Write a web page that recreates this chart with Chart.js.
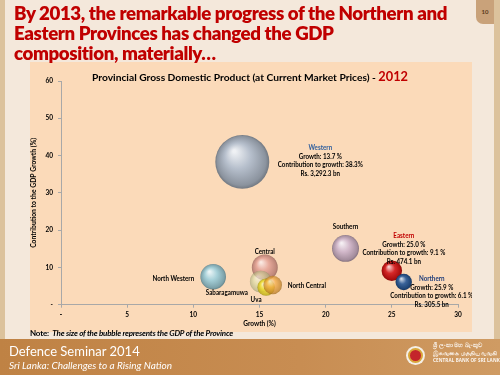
<!DOCTYPE html>
<html>
<head>
<meta charset="utf-8">
<script src="https://cdn.jsdelivr.net/npm/chart.js@4/dist/chart.umd.min.js"></script>
<style>
  html, body { margin: 0; padding: 0; }
  body { width: 500px; height: 375px; background: #dcc29c; position: relative; overflow: hidden; font-family: Lato, "Open Sans", sans-serif; }
  #slide { position: absolute; left: 5px; top: 0; width: 489px; height: 339px; background: #f4e8db; }
  #tab { position: absolute; left: 476px; top: 0; width: 18px; height: 24px; background: #c9a27a; border-bottom-left-radius: 7px; font: bold 6px Lato, sans-serif; color: #5a3a1a; text-align: center; line-height: 24px; }
  #heading { position: absolute; left: 14px; top: 3px; margin: 0; color: #c00000; font: 800 18.7px/20px Lato, sans-serif; letter-spacing: -0.4px; z-index: 2; white-space: nowrap; }
  #panel { position: absolute; left: 30px; top: 62px; width: 442px; height: 270px; background: #fbdab9; }
  #note { position: absolute; left: 30px; top: 328px; font: bold 8px Lato, sans-serif; color: #000; letter-spacing: -0.2px; }
  #note i { font-weight: bold; }
  #footer { position: absolute; left: 0; top: 339px; width: 500px; height: 36px; background: linear-gradient(to right, #bf8244, #c88d52 60%, #cf9b63); }
  #f1 { position: absolute; left: 9px; top: 4px; color: #fff; font: 13px Lato, "Open Sans", sans-serif; white-space: nowrap; }
  #f2 { position: absolute; left: 9px; top: 20px; color: #fff; font: italic 10px Lato, "Open Sans", sans-serif; white-space: nowrap; }
  #logo { position: absolute; left: 406px; top: 7px; width: 19px; height: 19px; border-radius: 50%; background: #f4efe6; }
  #logo div { position: absolute; left: 2px; top: 2px; width: 11px; height: 11px; border-radius: 50%; background: #c4252b; border: 2px solid #d9a53a; }
  #bank { position: absolute; left: 433px; top: 3px; color: #fff; font: bold 6px "Noto Sans", sans-serif; line-height: 7.5px; opacity: 0.9; white-space: nowrap; }
  #bank span { font-size: 4.6px; letter-spacing: 0.1px; }
</style>
</head>
<body>
<div id="slide"></div>
<div id="tab">10</div>
<div id="panel"><canvas id="bubbleChart" width="442" height="270"></canvas></div>
<h1 id="heading">By 2013, the remarkable progress of the Northern and<br>Eastern Provinces has changed the GDP<br>composition, materially…</h1>
<div id="note">Note:&nbsp; <i>The size of the bubble represents the GDP of the Province</i></div>
<div id="footer">
  <div id="f1">Defence Seminar 2014</div>
  <div id="f2">Sri Lanka: Challenges to a Rising Nation</div>
  <div id="logo"><div></div></div>
  <div id="bank">ශ්‍රී ලංකා මහ බැංකුව<br>இலங்கை மத்திய வங்கி<br><span>CENTRAL BANK OF SRI LANKA</span></div>
</div>

<script>
// provinces, 2012
const provinces = ['Western', 'Southern', 'North Western', 'Central', 'Sabaragamuwa', 'Uva', 'North Central', 'Eastern', 'Northern']
const growth = [13.7, 21.5, 11.5, 15.4, 15.1, 15.5, 16.0, 25.0, 25.9]        // %
const contribution = [38.3, 15.1, 7.5, 10.0, 6.2, 4.7, 5.3, 9.1, 6.1]       // % of GDP growth
const gdp = [3292.3, 820, 740, 760, 540, 340, 390, 474.1, 305.5]            // Rs. bn
const xTickValues = [0, 5, 10, 15, 20, 25, 30]
const yTickValues = [0, 10, 20, 30, 40, 50, 60]

const colours = ['#aeb8c6', '#cdb0c4', '#9ccbd4', '#e0968a', '#d6dc9c', '#f2dc1c', '#f0a030', '#d01010', '#24528e']
const alphas = [1, 1, 1, 0.85, 0.6, 0.85, 0.75, 1, 1]

// label layout around each bubble
const labelText = {
  'Western': [['Western', '#2f5f9e'], ['Growth: 13.7 %'], ['Contribution to growth: 38.3%'], ['Rs. 3,292.3 bn']],
  'Eastern': [['Eastern', '#c00000'], ['Growth: 25.0 %'], ['Contribution to growth: 9.1 %'], ['Rs. 474.1 bn']],
  'Northern': [['Northern', '#1f3d7a'], ['Growth: 25.9 %'], ['Contribution to growth: 6.1 %'], ['Rs. 305.5 bn']]
}
const labelPlace = {
  'Western': {dx: 78, dy: -14, align: 'center'},
  'Southern': {dx: 0, dy: -22, align: 'center'},
  'North Western': {dx: -19, dy: 2, align: 'right'},
  'Central': {dx: 0, dy: -16, align: 'center'},
  'Sabaragamuwa': {dx: -34, dy: 11, align: 'center'},
  'Uva': {dx: -10, dy: 13, align: 'center'},
  'North Central': {dx: 15, dy: 1, align: 'left'},
  'Eastern': {dx: 12, dy: -35, align: 'center'},
  'Northern': {dx: 28, dy: -3, align: 'center'}
}

const smallFont = 'bold 7px Lato, sans-serif'
const tickFont = { family: 'Lato, sans-serif', size: 6.5, weight: 'bold' }

function hexRgb(h) {
  return [parseInt(h.slice(1, 3), 16), parseInt(h.slice(3, 5), 16), parseInt(h.slice(5, 7), 16)]
}
function shade(c, f, a) {
  let v = c.map(x => f > 0 ? Math.round(x + (255 - x) * f) : Math.round(x * (1 + f)))
  return 'rgba(' + v.join(',') + ',' + a + ')'
}

function sphereFill(context) {
  let i = context.dataIndex
  let chart = context.chart
  let p = context.raw
  let base = hexRgb(colours[i])
  let a = alphas[i]
  if (!p || !chart.chartArea || !chart.scales.x) return shade(base, 0, a)
  let cx = chart.scales.x.getPixelForValue(p.x)
  let cy = chart.scales.y.getPixelForValue(p.y)
  let r = p.r
  let g = chart.ctx.createRadialGradient(cx - r * 0.3, cy - r * 0.4, r * 0.05, cx, cy, r)
  g.addColorStop(0, shade(base, 0.8, a))
  g.addColorStop(0.45, shade(base, 0.1, a))
  g.addColorStop(0.9, shade(base, -0.2, a))
  g.addColorStop(1, shade(base, -0.35, a))
  return g
}

// squeeze text horizontally (the original uses a narrow font)
function squeezed(ctx, text, x, y, align, sx) {
  ctx.save()
  ctx.translate(x, y)
  ctx.scale(sx, 1)
  ctx.textAlign = align
  ctx.fillText(text, 0, 0)
  ctx.restore()
}

const bubbleData = provinces.map((p, i) => ({
  x: growth[i],
  y: contribution[i],
  r: 0.47 * Math.sqrt(gdp[i])
}))

const labelsPlugin = {
  id: 'bubbleLabels',
  afterDatasetsDraw(chart) {
    const ctx = chart.ctx
    const meta = chart.getDatasetMeta(0)
    ctx.save()
    ctx.font = smallFont
    ctx.textBaseline = 'middle'
    let sx = 85 / ctx.measureText('Contribution to growth: 38.3%').width
    meta.data.forEach((el, i) => {
      let name = provinces[i]
      let pl = labelPlace[name]
      let lines = labelText[name] || [[name]]
      lines.forEach((ln, k) => {
        ctx.fillStyle = ln[1] || '#000'
        squeezed(ctx, ln[0], el.x + pl.dx, el.y + pl.dy + k * 8.5, pl.align, sx)
      })
    })
    // chart title
    let t1 = 'Provincial Gross Domestic Product (at Current Market Prices) - '
    let t2 = '2012'
    let f1 = 'bold 10px Lato, sans-serif'
    let f2 = 'bold 12.5px Lato, sans-serif'
    ctx.font = f1
    let w1 = ctx.measureText(t1).width
    ctx.font = f2
    let w2 = ctx.measureText(t2).width
    let ts = 316 / (w1 + w2)
    let x0 = 220 - 158
    ctx.textBaseline = 'alphabetic'
    ctx.font = f1
    ctx.fillStyle = '#000'
    squeezed(ctx, t1, x0, 19, 'left', ts)
    ctx.font = f2
    ctx.fillStyle = '#c00000'
    squeezed(ctx, t2, x0 + w1 * ts, 19, 'left', ts)
    ctx.restore()
  }
}

const chart = document.getElementById('bubbleChart')

let bubbleChart = new Chart(chart, {
  type: 'bubble',
  data: {
    datasets: [{
      label: 'Provinces',
      data: bubbleData,
      backgroundColor: sphereFill,
      borderWidth: 0
    }]
  },
  options: {
    responsive: false,
    animation: false,
    layout: { autoPadding: false, padding: { top: 19, right: 14, left: 0, bottom: 0 } },
    plugins: { legend: { display: false }, tooltip: { enabled: false } },
    scales: {
      x: {
        type: 'linear',
        min: 0, max: 30,
        afterBuildTicks: s => { s.ticks = xTickValues.map(v => ({value: v})) },
        afterFit: s => { s.height = 27.3 },
        border: { color: '#a8a8a8', width: 1 },
        grid: { drawOnChartArea: false, color: '#a8a8a8', tickLength: 3 },
        ticks: {
          color: '#000', font: tickFont,
          padding: 3, maxRotation: 0,
          callback: v => v === 0 ? '-' : v
        },
        title: { display: true, text: 'Growth (%)', color: '#000', padding: { top: 0, bottom: 4 }, font: tickFont }
      },
      y: {
        type: 'linear',
        min: 0, max: 60,
        afterBuildTicks: s => { s.ticks = yTickValues.map(v => ({value: v})) },
        afterFit: s => { s.width = 31 },
        border: { color: '#a8a8a8', width: 1 },
        grid: { drawOnChartArea: false, color: '#a8a8a8', tickLength: 3 },
        ticks: {
          color: '#000', font: tickFont,
          padding: 5,
          callback: v => v === 0 ? '-' : v
        },
        title: { display: true, text: 'Contribution to the GDP Growth (%)', color: '#000', padding: 0,
          font: { family: 'Lato, sans-serif', size: 6.8, weight: 'bold' } }
      }
    }
  },
  plugins: [labelsPlugin]
})
</script>
</body>
</html>
